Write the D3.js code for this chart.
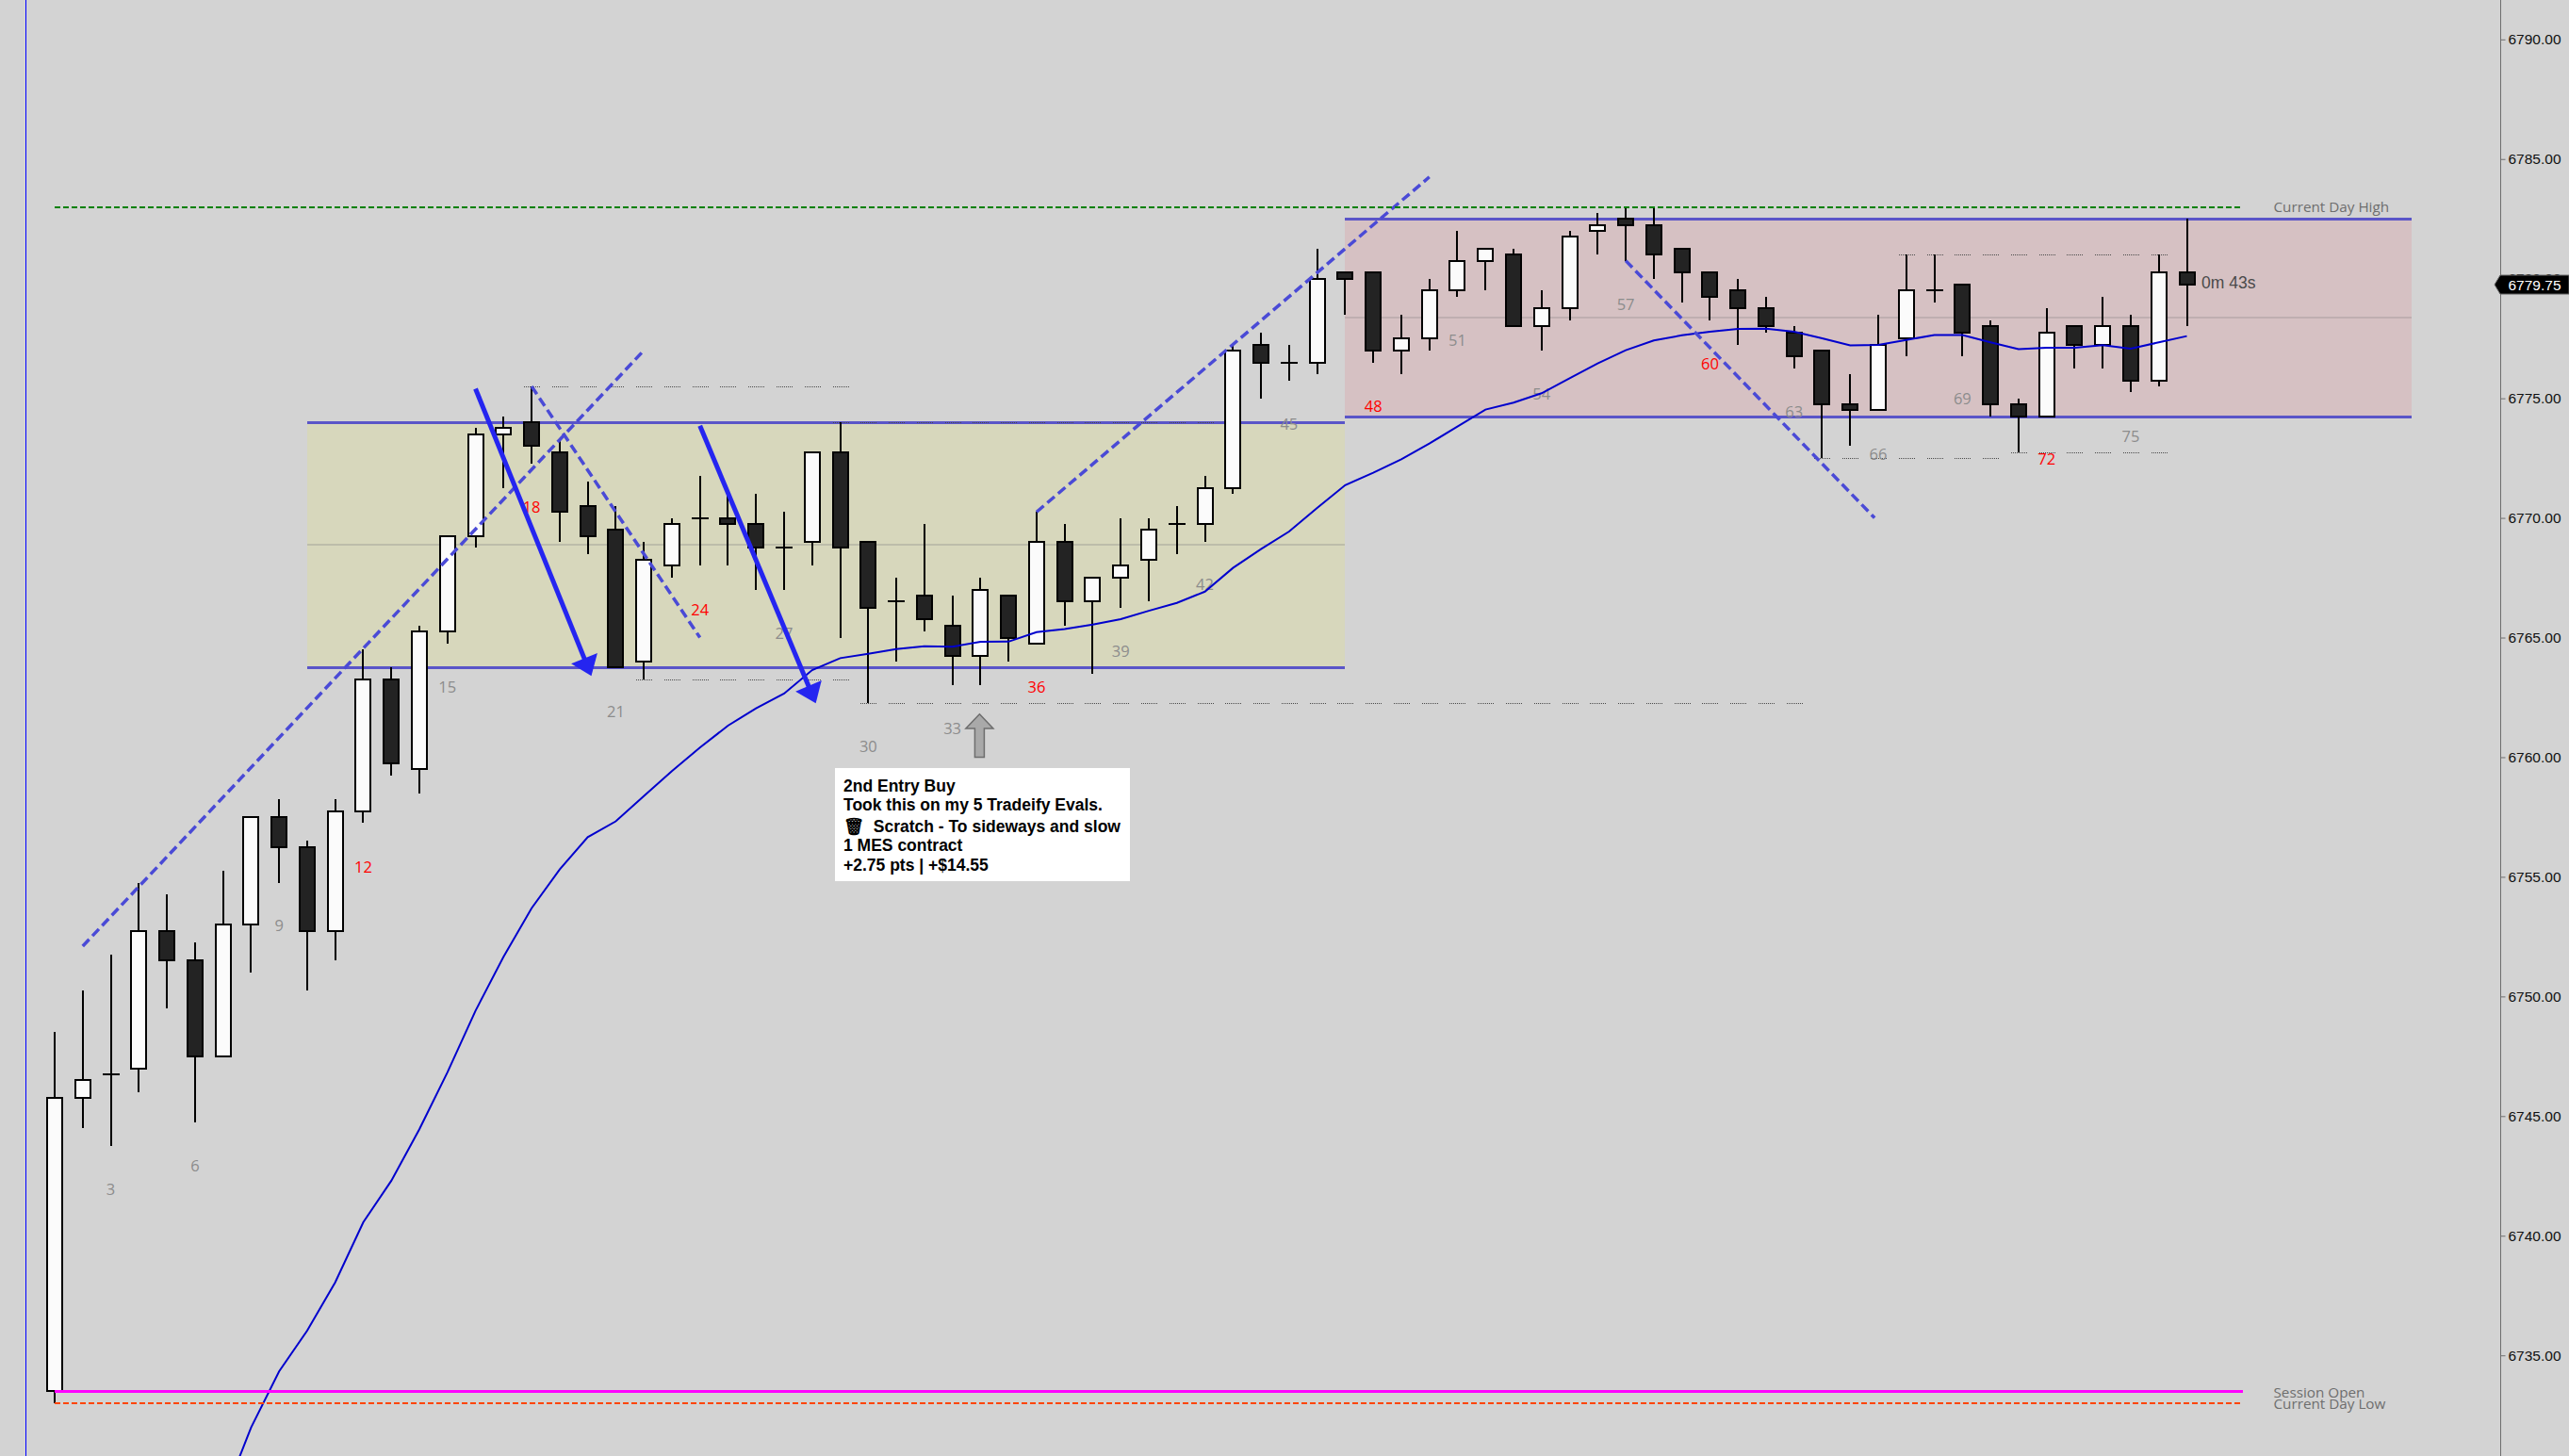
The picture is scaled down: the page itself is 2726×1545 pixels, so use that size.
<!DOCTYPE html>
<html>
<head>
<meta charset="utf-8">
<style>
    html, body { margin: 0; padding: 0; background: #d3d3d3; overflow: hidden; }
    svg { display: block; }
</style>
<script src="https://cdn.jsdelivr.net/npm/d3@7"></script>
</head>
<body>
<svg class="chart" width="2726" height="1545"></svg>
<script>
// candles, one entry per bar (bar 1 is the first)
const opens = [6733.5,6745.75,6746.75,6747,6752.75,6751.5,6747.5,6753,6757.5,6756.25,6752.75,6757.75,6763.25,6759.5,6765.25,6769.25,6773.5,6774,6772.75,6770.5,6769.5,6764,6768,6770,6770,6769.75,6768.75,6769,6772.75,6769,6766.5,6766.75,6765.5,6764.25,6766.75,6764.75,6769,6766.5,6767.5,6768.25,6769.75,6769.75,6771.25,6777.25,6776.5,6776.5,6780.25,6780.25,6777,6777.5,6779.5,6780.75,6781,6778,6778.75,6782,6782.5,6782.25,6781.25,6780.25,6779.5,6778.75,6777.75,6777,6774.75,6774.5,6777.5,6779.5,6779.75,6778,6774.75,6774.25,6778,6777.25,6778,6775.75,6780.25];
const highs = [6748.5,6750.25,6751.75,6754.75,6754.25,6752.25,6755.25,6757.5,6758.25,6756.5,6758.25,6764.5,6763.75,6765.5,6769.25,6773.75,6774.25,6775.5,6773.25,6771.5,6770.5,6769,6770,6771.75,6771.25,6771,6770.25,6772.75,6774,6769,6767.5,6769.75,6766.75,6767.5,6766.75,6770.25,6769.75,6767.5,6770,6770,6770.5,6771.75,6777.25,6777.75,6777.25,6781.25,6780.25,6780.25,6778.5,6780,6782,6781.25,6781.25,6779.5,6782,6782.75,6783,6783,6781.25,6780.25,6780,6779.25,6778,6777,6776,6778.5,6781,6781,6779.75,6778.25,6775,6778.75,6778,6779.25,6778.5,6781,6782.5];
const lows = [6733,6744.5,6743.75,6746,6749.5,6744.75,6747.5,6751,6754.75,6750.25,6751.5,6757.25,6759.25,6758.5,6764.75,6768.75,6771.25,6772.25,6769,6768.5,6763.75,6763.25,6767.5,6768,6768,6767,6767,6768,6765,6762.25,6764,6765.25,6763,6763,6764,6764.75,6765.5,6763.5,6766.25,6766.5,6768.5,6769,6771,6775,6775.75,6776,6778.5,6776.5,6776,6777,6779.25,6779.5,6778,6777,6778.25,6781,6780.75,6780,6779,6778.25,6777.25,6777.75,6776.25,6772.5,6773,6774.5,6776.75,6779,6776.75,6774.25,6772.75,6774.25,6776.25,6776.25,6775.25,6775.5,6778];
const closes = [6745.75,6746.5,6746.75,6752.75,6751.5,6747.5,6753,6757.5,6756.25,6752.75,6757.75,6763.25,6759.75,6765.25,6769.25,6773.5,6773.75,6773,6770.25,6769.25,6763.75,6768.25,6769.75,6770,6769.75,6768.75,6768.75,6772.75,6768.75,6766.25,6766.5,6765.75,6764.25,6767,6765,6769,6766.5,6767.5,6768,6769.5,6769.75,6771.25,6777,6776.5,6776.5,6780,6780,6777,6777.5,6779.5,6780.75,6781.25,6778,6778.75,6781.75,6782.25,6782.25,6781,6780.25,6779.25,6778.75,6778,6776.75,6774.75,6774.5,6777.25,6779.5,6779.5,6777.75,6774.75,6774.25,6777.75,6777.25,6778,6775.75,6780.25,6779.75];

// moving average, starts at bar 7 (earlier values are below the window)
const emaStart = 7;
const emaValues = [6729,6731.98,6734.33,6736.03,6738.05,6740.56,6742.3,6744.45,6746.83,6749.4,6751.66,6753.69,6755.31,6756.66,6757.32,6758.37,6759.42,6760.4,6761.32,6762.04,6762.66,6763.64,6764.14,6764.32,6764.52,6764.64,6764.62,6764.82,6764.83,6765.23,6765.36,6765.54,6765.77,6766.12,6766.45,6766.92,6767.91,6768.7,6769.43,6770.42,6771.37,6771.89,6772.45,6773.11,6773.82,6774.53,6774.82,6775.21,6775.84,6776.46,6777.01,6777.42,6777.63,6777.78,6777.9,6777.91,6777.78,6777.51,6777.21,6777.23,6777.44,6777.64,6777.64,6777.34,6777.05,6777.11,6777.11,6777.22,6777.07,6777.34,6777.6];

// bar count labels
const countLabels = [3,6,9,12,15,18,21,24,27,30,33,36,39,42,45,48,51,54,57,60,63,66,69,72,75];
const countPrices = [6741.94,6742.93,6752.96,6755.42,6762.95,6770.46,6761.91,6766.18,6765.19,6760.43,6761.18,6762.94,6764.44,6767.21,6773.92,6774.68,6777.44,6775.19,6778.94,6776.46,6774.45,6772.67,6774.99,6772.45,6773.42];
const redCounts = [12,18,24,36,48,60,72];

const priceTicks = [6790,6785,6780,6775,6770,6765,6760,6755,6750,6745,6740,6735];
const lastPrice = 6779.75;

// ranges drawn as boxes: [from bar, to bar, top, bottom]
const rangeFrom = [10,47];
const rangeTo = [47,85];
const rangeTop = [6774,6782.5];
const rangeBottom = [6763.75,6774.25];
const rangeFill = ['#d7d7bc','#d6c1c3'];
const rangeMid = ['#bdbdaa','#bfaeb0'];

// dotted swing levels
const levelPrice = [6775.5,6774,6763.25,6762.25,6781,6772.5,6772.75];
const levelFrom = [18,29,22,30,67,64,71];
const levelTo = [29,42,29,63,76,70,76];

// dashed trend lines and the two thick arrows: [bar, price]
const trendLines = [
    [[2,6752.1],[22,6777]],
    [[18,6775.5],[24,6765]],
    [[36,6770.25],[50,6784.25]],
    [[57,6780.75],[65.87,6770]]
];
const arrows = [
    [[16,6775.4],[20.13,6763.4]],
    [[24,6773.85],[28.13,6762.25]]
];

const dayHigh = 6783;
const sessionOpen = 6733.5;
const dayLow = 6733;
const noteLines = ['2nd Entry Buy','Took this on my 5 Tradeify Evals.','\u{1F5D1}\u00A0\u00A0Scratch - To sideways and slow','1 MES contract','+2.75 pts | +$14.55'];

const svg = d3.select('.chart');
const width = +svg.attr('width');
const height = +svg.attr('height');

const xScale = d3.scaleLinear().domain([1, 77]).range([58, 2320.5]);
const yScale = d3.scaleLinear().domain([6790, 6735]).range([41.8, 1438.2]);
const px = d => Math.round(xScale(d));
const py = d => Math.round(yScale(d));

const bars = opens.map((o, i) => ({ bar: i + 1, open: o, high: highs[i], low: lows[i], close: closes[i] }));
const segFont = '"Open Sans", "Noto Sans", sans-serif';

svg.append('rect').attr('width', width).attr('height', height).attr('fill', '#d3d3d3');

// left session line
svg.append('line')
    .attr('x1', 27.5).attr('x2', 27.5)
    .attr('y1', 0).attr('y2', height)
    .attr('stroke', '#0000ff').attr('stroke-width', 1);

//range boxes
const ranges = svg.append('g').selectAll('g')
    .data(rangeFrom.map((d, i) => i))
    .join('g')
    .attr('shape-rendering', 'crispEdges');

ranges.append('rect')
    .attr('x', i => px(rangeFrom[i]))
    .attr('width', i => px(rangeTo[i]) - px(rangeFrom[i]))
    .attr('y', i => py(rangeTop[i]))
    .attr('height', i => py(rangeBottom[i]) - py(rangeTop[i]))
    .attr('fill', i => rangeFill[i]);

ranges.append('line')
    .attr('x1', i => px(rangeFrom[i])).attr('x2', i => px(rangeTo[i]))
    .attr('y1', i => py((rangeTop[i] + rangeBottom[i]) / 2)).attr('y2', i => py((rangeTop[i] + rangeBottom[i]) / 2))
    .attr('stroke', i => rangeMid[i]).attr('stroke-width', 2);

[rangeTop, rangeBottom].forEach(edge => {
    ranges.append('line')
        .attr('x1', i => px(rangeFrom[i])).attr('x2', i => px(rangeTo[i]))
        .attr('y1', i => py(edge[i]) + 0.5).attr('y2', i => py(edge[i]) + 0.5)
        .attr('stroke', '#5a55c8').attr('stroke-width', 3);
});

//dotted levels, a short piece under every bar
const levelSegments = levelPrice.flatMap((p, i) => d3.range(levelFrom[i], levelTo[i] + 1).map(b => ({ bar: b, price: p })));
svg.append('g').selectAll('line')
    .data(levelSegments)
    .join('line')
    .attr('x1', d => px(d.bar) - 8).attr('x2', d => px(d.bar) + 9)
    .attr('y1', d => py(d.price) + 0.5).attr('y2', d => py(d.price) + 0.5)
    .attr('stroke', '#4a4a4a').attr('stroke-width', 1)
    .attr('stroke-dasharray', '1,1')
    .attr('shape-rendering', 'crispEdges');

//candles
const candles = svg.append('g').attr('shape-rendering', 'crispEdges')
    .selectAll('g').data(bars).join('g');

candles.append('line')
    .attr('x1', d => px(d.bar)).attr('x2', d => px(d.bar))
    .attr('y1', d => py(d.high)).attr('y2', d => py(d.low))
    .attr('stroke', '#000').attr('stroke-width', 2);

candles.filter(d => d.open !== d.close).append('rect')
    .attr('x', d => px(d.bar) - 8)
    .attr('width', 16)
    .attr('y', d => py(Math.max(d.open, d.close)))
    .attr('height', d => py(Math.min(d.open, d.close)) - py(Math.max(d.open, d.close)))
    .attr('fill', d => d.close > d.open ? '#fbfbfb' : '#232323')
    .attr('stroke', '#000').attr('stroke-width', 2);

// open equals close, only a dash
candles.filter(d => d.open === d.close).append('line')
    .attr('x1', d => px(d.bar) - 9).attr('x2', d => px(d.bar) + 9)
    .attr('y1', d => py(d.open)).attr('y2', d => py(d.open))
    .attr('stroke', '#000').attr('stroke-width', 2);

//bar counts
svg.append('g').selectAll('text')
    .data(countLabels)
    .join('text')
    .attr('x', d => xScale(d))
    .attr('y', (d, i) => yScale(countPrices[i]))
    .attr('dy', '0.36em')
    .attr('text-anchor', 'middle')
    .attr('font-family', segFont)
    .attr('font-size', 16.5)
    .attr('fill', d => redCounts.includes(d) ? '#ff0000' : '#8c8c8c')
    .text(d => d);

//moving average
const emaLine = d3.line()
    .x((d, i) => xScale(emaStart + i))
    .y(d => yScale(d));

svg.append('path')
    .attr('d', emaLine(emaValues))
    .attr('fill', 'none')
    .attr('stroke', '#0000cd')
    .attr('stroke-width', 2);

//trend lines
svg.append('g').selectAll('line')
    .data(trendLines)
    .join('line')
    .attr('x1', d => xScale(d[0][0])).attr('y1', d => yScale(d[0][1]))
    .attr('x2', d => xScale(d[1][0])).attr('y2', d => yScale(d[1][1]))
    .attr('stroke', '#4a4ad6').attr('stroke-width', 3.5)
    .attr('stroke-dasharray', '10,5');

//thick arrows
const arrowGroup = svg.append('g').selectAll('g').data(arrows).join('g');

const arrowGeom = d => {
    const x0 = xScale(d[0][0]), y0 = yScale(d[0][1]), x1 = xScale(d[1][0]), y1 = yScale(d[1][1]);
    const len = Math.hypot(x1 - x0, y1 - y0);
    const ux = (x1 - x0) / len, uy = (y1 - y0) / len;
    return { x0, y0, x1, y1, ux, uy };
};

arrowGroup.append('line')
    .attr('x1', d => arrowGeom(d).x0).attr('y1', d => arrowGeom(d).y0)
    .attr('x2', d => arrowGeom(d).x1 - arrowGeom(d).ux * 6).attr('y2', d => arrowGeom(d).y1 - arrowGeom(d).uy * 6)
    .attr('stroke', '#2525f0').attr('stroke-width', 5);

arrowGroup.append('polygon')
    .attr('points', d => {
        const g = arrowGeom(d);
        const bx = g.x1 - g.ux * 20, by = g.y1 - g.uy * 20;
        return [[g.x1, g.y1], [bx - g.uy * 15, by + g.ux * 15], [bx + g.uy * 15, by - g.ux * 15]].join(' ');
    })
    .attr('fill', '#2525f0');

//day levels
[[dayHigh, '#008000', '6,3', 2], [dayLow, '#ff4500', '6,3', 2], [sessionOpen, '#ff00ff', null, 3]].forEach(l => {
    svg.append('line')
        .attr('x1', px(1)).attr('x2', px(79))
        .attr('y1', py(l[0])).attr('y2', py(l[0]))
        .attr('stroke', l[1]).attr('stroke-width', l[3])
        .attr('stroke-dasharray', l[2])
        .attr('shape-rendering', 'crispEdges');
});

svg.append('g').selectAll('text')
    .data([['Current Day High', dayHigh], ['Session Open', sessionOpen - 0.05], ['Current Day Low', dayLow - 0.03]])
    .join('text')
    .attr('x', 2412.5)
    .attr('y', d => yScale(d[1]))
    .attr('dy', '0.35em')
    .attr('font-family', segFont)
    .attr('font-size', 15.25)
    .attr('fill', '#6e6e6e')
    .text(d => d[0]);

//entry arrow
const ax = xScale(34);
svg.append('polygon')
    .attr('points', [[ax - 1, yScale(6761.8)], [ax + 13.5, yScale(6761.2)], [ax + 4, yScale(6761.2)], [ax + 4, yScale(6760)], [ax - 6, yScale(6760)], [ax - 6, yScale(6761.2)], [ax - 15.5, yScale(6761.2)]].join(' '))
    .attr('fill', '#a9a9a9')
    .attr('stroke', '#6e6e6e')
    .attr('stroke-width', 1.5);

//trade note
svg.append('rect')
    .attr('x', 886).attr('y', 815)
    .attr('width', 313).attr('height', 120)
    .attr('fill', '#ffffff');

svg.append('g').selectAll('text')
    .data(noteLines)
    .join('text')
    .attr('x', 895)
    .attr('y', (d, i) => [840, 860, 883, 903, 924][i])
    .attr('font-family', '"Liberation Sans", Arial, "Noto Sans", sans-serif')
    .attr('font-weight', 'bold')
    .attr('font-size', 17.5)
    .attr('fill', '#000')
    .text(d => d);

//timer
svg.append('text')
    .attr('x', 2336)
    .attr('y', yScale(lastPrice) - 2)
    .attr('dy', '0.36em')
    .attr('font-family', '"Liberation Sans", Arial, sans-serif')
    .attr('font-size', 17.5)
    .attr('fill', '#4a4a4a')
    .text('0m 43s');

//price axis
const axis = svg.append('g')
    .attr('transform', 'translate(2653.5,0)')
    .call(d3.axisRight(yScale)
        .tickValues(priceTicks)
        .tickSize(5)
        .tickPadding(3)
        .tickFormat(d3.format('.2f')));

axis.select('.domain').attr('d', `M0,0V${height}`).attr('stroke', '#6e6e6e');
axis.selectAll('.tick line').attr('stroke', '#6e6e6e');
axis.selectAll('.tick text')
    .attr('font-family', '"Liberation Sans", Arial, sans-serif')
    .attr('font-size', 15.5)
    .attr('fill', '#111');

//last price marker
const lastY = yScale(lastPrice);
svg.append('polygon')
    .attr('points', [[2647, lastY], [2653, lastY - 10], [2726, lastY - 10], [2726, lastY + 10], [2653, lastY + 10]].join(' '))
    .attr('fill', '#000')
    .attr('stroke', '#666')
    .attr('stroke-width', 1);

svg.append('text')
    .attr('x', 2661.5)
    .attr('y', lastY)
    .attr('dy', '0.37em')
    .attr('font-family', '"Liberation Sans", Arial, sans-serif')
    .attr('font-size', 15.5)
    .attr('fill', '#fff')
    .text(d3.format('.2f')(lastPrice));
</script>
</body>
</html>
